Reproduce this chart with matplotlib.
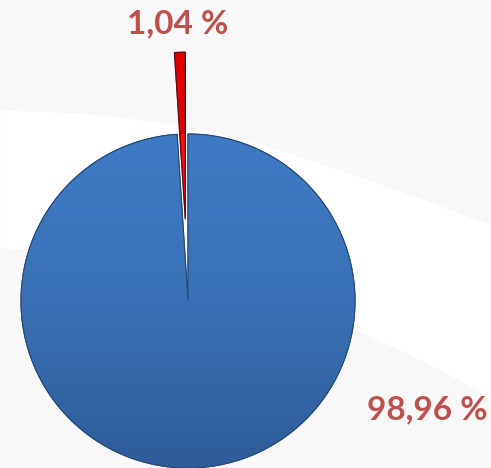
import numpy as np
import matplotlib.pyplot as plt
from matplotlib.colors import LinearSegmentedColormap
from matplotlib.patches import Wedge

# data
labels = ['1,04 %', '98,96 %']
shares = [1.04, 98.96]
colors = ['#E00000', '#3A70B6']
explode = [0.49, 0.0]

W, H = 491, 468
fig = plt.figure(figsize=(W / 100, H / 100), dpi=100)
fig.patch.set_facecolor('#F8F8F8')

# background with white swoosh, pixel coordinates
bg = fig.add_axes([0, 0, 1, 1])
bg.set_xlim(0, W)
bg.set_ylim(H, 0)
bg.axis('off')
xs = np.linspace(0, W, 200)
upper = np.interp(xs, [0, 80, 160, 250, 340, 420, 491], [110, 113, 122, 140, 170, 198, 225])
lower = np.interp(xs, [0, 100, 200, 280, 340, 400, 440, 491], [248, 252, 268, 295, 322, 350, 370, 397])
bg.fill_between(xs, upper, lower, color='white', lw=0)

# pie axes, centre (188, 301), radius 167 px
cx, cy, r = 188, 301, 167
ax = fig.add_axes([(cx - r) / W, (H - cy - r) / H, 2 * r / W, 2 * r / H])
wedges, _ = ax.pie(shares, colors=colors, explode=explode, startangle=90,
                   counterclock=True, radius=1.0,
                   wedgeprops=dict(edgecolor='#27497A', linewidth=0.8))
ax.set_xlim(-1, 1)
ax.set_ylim(-1, 1)
ax.axis('off')

# gradient shading clipped to each wedge
grads = [LinearSegmentedColormap.from_list('r', ['#8E0000', '#FF1010', '#8E0000']),
         LinearSegmentedColormap.from_list('b', ['#2E5C98', '#3A71B6', '#3F7AC4'])]
for i, (w, cm) in enumerate(zip(wedges, grads)):
    w.set_clip_on(False)
    if i == 0:
        g = np.linspace(0, 1, 50)[None, :]
        im = ax.imshow(g, cmap=cm, extent=[-0.12, 0.05, 0, 1.6], aspect='auto', zorder=w.get_zorder() + 0.1)
    else:
        g = np.linspace(0, 1, 100)[:, None]
        im = ax.imshow(g, cmap=cm, extent=[-1, 1, -1, 1], origin='lower', aspect='auto', zorder=w.get_zorder() + 0.1)
    im.set_clip_path(w)
    outline = Wedge(w.center, w.r, w.theta1, w.theta2, fill=False,
                    edgecolor='#27497A' if i else '#7A0000', lw=0.8,
                    zorder=w.get_zorder() + 0.2, clip_on=False)
    ax.add_patch(outline)

# labels
fig.text(178 / W, 1 - 24 / H, labels[0], ha='center', va='center', color='#C0504D',
         fontsize=24, fontweight='bold', family='Lato')
fig.text(427 / W, 1 - 410 / H, labels[1], ha='center', va='center', color='#C0504D',
         fontsize=24, fontweight='bold', family='Lato')

plt.savefig('out.png', dpi=100, facecolor=fig.get_facecolor())
